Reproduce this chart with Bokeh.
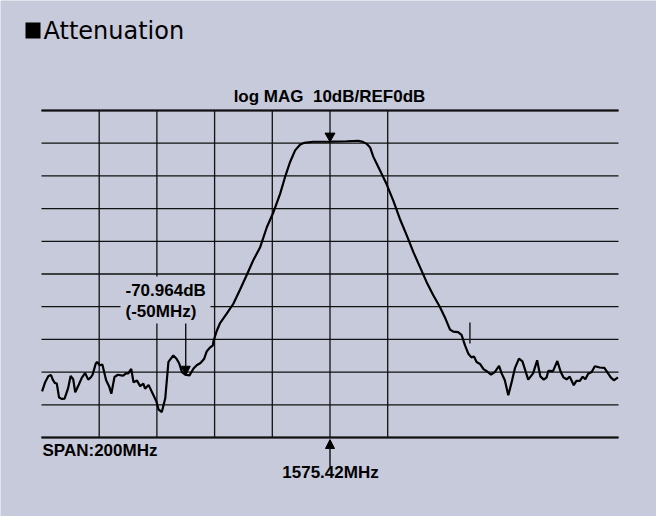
from bokeh.plotting import figure
from bokeh.models import Range1d, Label, Arrow, NormalHead, BoxAnnotation
from bokeh.embed import file_html
from bokeh.resources import INLINE

# ---- data ----
center_freq_mhz = 1575.42
span_mhz = 200
ref_level_db = 0
db_per_div = 10

freq_offset_mhz = [
    -99.8, -98.7, -97.6, -96.7, -96.1, -95.4, -94.7, -93.9, -92.9, -92.0,
    -90.8, -89.9, -89.0, -88.3, -86.9, -86.0, -84.9, -83.8, -82.8, -82.3,
    -81.2, -80.7, -79.8, -78.9, -77.6, -76.5, -75.8, -74.7, -73.5, -72.4,
    -71.7, -70.7, -69.9, -68.9, -68.1, -66.9, -65.8, -64.7, -64.1, -62.9,
    -61.6, -60.2, -59.4, -58.3, -57.1, -56.0, -54.3, -53.2, -52.3, -51.3,
    -50.2, -48.7, -47.3, -46.2, -44.9, -43.6, -42.7, -41.6, -40.6, -40.4,
    -39.3, -38.1, -35.8, -33.5, -31.2, -28.9, -26.6, -24.2, -21.9, -19.6,
    -17.3, -15.6, -13.9, -12.1, -10.4, -9.0, -5.9, 0.0, 5.8, 9.8,
    11.4, 12.7, 13.9, 15.0, 17.3, 19.6, 21.9, 24.2, 26.6, 28.9,
    31.2, 33.5, 35.8, 38.1, 39.8, 41.6, 42.7, 44.4, 45.6, 46.8,
    47.9, 49.0, 49.9, 50.8, 52.0, 53.2, 54.6, 55.8, 57.1, 58.6,
    59.5, 60.6, 61.8, 62.9, 64.1, 65.5, 66.7, 68.7, 70.4, 71.8,
    72.9, 74.1, 75.1, 75.7, 77.3, 78.8, 80.0, 80.9, 82.0, 83.1,
    84.5, 85.4, 86.6, 87.6, 88.5, 89.5, 90.7, 91.8, 93.5, 95.1,
    96.1, 97.3, 98.4, 99.8,
]
level_db = [
    -75.9, -73.0, -71.2, -70.9, -72.3, -73.3, -73.5, -77.8, -78.2, -78.1,
    -75.0, -71.2, -72.2, -76.2, -73.5, -71.7, -70.3, -72.3, -71.5, -70.8,
    -67.4, -66.9, -67.9, -67.7, -72.5, -74.5, -76.6, -71.5, -70.8, -71.0,
    -71.1, -70.4, -70.4, -69.0, -73.1, -72.6, -74.3, -73.5, -75.1, -73.9,
    -76.3, -78.9, -81.5, -82.2, -78.0, -66.9, -64.9, -65.9, -67.3, -70.0,
    -70.8, -71.0, -68.9, -67.9, -67.2, -65.9, -63.6, -62.5, -61.8, -60.6,
    -57.5, -55.0, -52.1, -49.1, -44.8, -40.4, -35.8, -31.8, -25.7, -21.1,
    -15.5, -10.4, -5.9, -2.2, -0.5, 0.1, 0.45, 0.5, 0.6, 0.75,
    0.4, -0.2, -1.3, -4.1, -8.3, -12.5, -17.5, -23.1, -28.2, -33.3,
    -37.9, -42.5, -46.5, -50.1, -53.2, -57.0, -57.6, -57.8, -58.6, -61.8,
    -64.3, -65.5, -65.2, -66.9, -67.5, -69.1, -69.9, -70.8, -70.0, -68.1,
    -70.4, -72.5, -77.1, -73.3, -68.8, -65.9, -66.7, -72.3, -70.4, -66.4,
    -71.3, -72.3, -71.6, -69.6, -69.7, -66.6, -70.0, -71.6, -72.2, -71.4,
    -74.0, -72.7, -72.7, -71.4, -72.2, -70.5, -70.0, -68.2, -68.6, -68.7,
    -70.0, -71.6, -72.5, -71.6,
]

marker_offset_mhz = -50
marker_value_db = -70.964
marker2_offset_mhz = 48.5
vgrid_mhz = [-80, -60, -40, -20, 0, 20]

title_text = "Attenuation"
header_text = "log MAG\u00a0\u00a010dB/REF0dB"
span_text = "SPAN:200MHz"

# ---- style / layout ----
BG = "#C6CADB"
BOLD = "Liberation Sans"
W, H = 656, 516
FL, FR, FT, FB = 41.0, 618.0, 110.0, 437.0   # graticule box in canvas pixels

top_db = ref_level_db + db_per_div
bottom_db = top_db - 10 * db_per_div
left_f = -span_mhz / 2
right_f = span_mhz / 2
sx = (right_f - left_f) / (FR - FL)
sy = (top_db - bottom_db) / (FB - FT)

def fx(px):
    return left_f + (px - FL) * sx
def fy(py):
    return top_db - (py - FT) * sy

p = figure(width=W, height=H, output_backend="svg", toolbar_location=None,
           x_range=Range1d(fx(0), fx(W)), y_range=Range1d(fy(H), fy(0)),
           min_border=0)
p.xaxis.visible = False
p.yaxis.visible = False
p.xgrid.visible = False
p.ygrid.visible = False
p.outline_line_color = None
p.background_fill_color = BG
p.border_fill_color = BG

# graticule
hlines = list(range(int(bottom_db), int(top_db) + 1, db_per_div))
p.segment([left_f] * len(hlines), hlines, [right_f] * len(hlines), hlines,
          line_color="#111111", line_width=1.3)
p.segment([left_f, left_f], [top_db, bottom_db], [right_f, right_f], [top_db, bottom_db],
          line_color="#111111", line_width=2)
p.segment(vgrid_mhz, [bottom_db] * len(vgrid_mhz), vgrid_mhz, [top_db] * len(vgrid_mhz),
          line_color="#111111", line_width=1.3)

# label background box for marker readout
p.add_layout(BoxAnnotation(left=fx(120), right=fx(210), top=fy(276), bottom=fy(323),
                           fill_color=BG, fill_alpha=1.0, line_color=None))

# title bullet square
p.add_layout(BoxAnnotation(left=fx(25), right=fx(40), top=fy(22), bottom=fy(38),
                           fill_color="black", fill_alpha=1.0, line_color=None))

# trace
p.line(freq_offset_mhz, level_db, line_color="black", line_width=2.2)

# center marker triangle
p.scatter([0], [fy(135.5)], marker="inverted_triangle", size=10, fill_color="black", line_color="black")

# marker arrow at -50MHz
p.add_layout(Arrow(x_start=marker_offset_mhz, y_start=fy(323), x_end=marker_offset_mhz,
                   y_end=marker_value_db, line_color="black", line_width=1.3,
                   end=NormalHead(size=9, fill_color="black", line_color="black")))
# center frequency arrow (below graticule)
p.add_layout(Arrow(x_start=0, y_start=fy(466), x_end=0, y_end=fy(439),
                   line_color="black", line_width=1.3,
                   end=NormalHead(size=9, fill_color="black", line_color="black")))
# second marker tick
p.segment([marker2_offset_mhz], [fy(322)], [marker2_offset_mhz], [fy(343)],
          line_color="#222222", line_width=1.5)

def lab(text, px, py, size, align="left", font=BOLD, style="bold"):
    fs = float(size.replace("px", ""))
    p.add_layout(Label(x=fx(px), y=fy(py - 0.37 * fs), text=text, text_font=font,
                       text_font_size=size, text_font_style=style, text_align=align,
                       text_baseline="alphabetic", text_color="black"))

lab(title_text, 43, 39, "24px", font="DejaVu Sans", style="normal")
lab(header_text, 329, 102, "17px", align="center")
lab(f"{marker_value_db:.3f}dB", 125, 296, "17px")
lab(f"({marker_offset_mhz}MHz)", 125, 317, "17px")
lab(span_text, 42, 456, "17px")
lab(f"{center_freq_mhz:.2f}MHz", 330, 478, "17px", align="center")

open("out.html", "w").write(file_html(p, INLINE))
